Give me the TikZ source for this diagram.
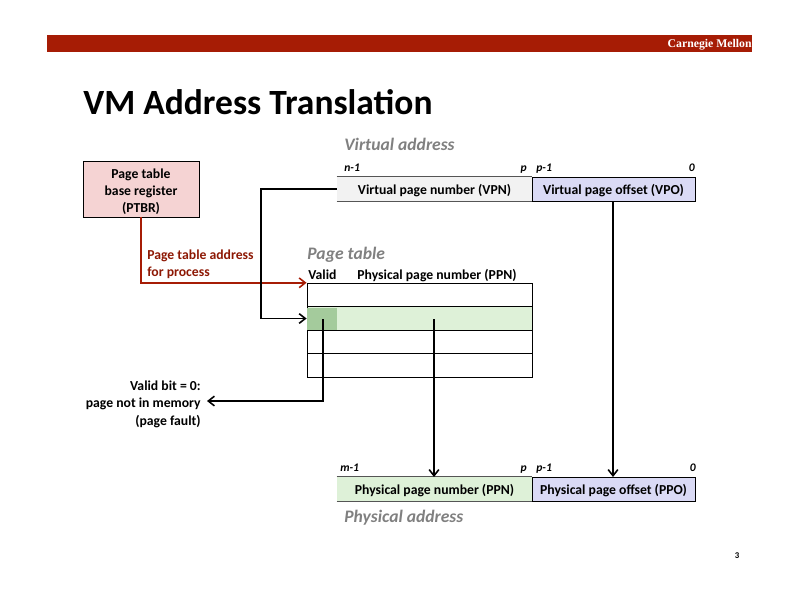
\documentclass[tikz,border=0pt]{standalone}
\usepackage{fontspec}
\usetikzlibrary{arrows.meta}
\setmainfont{Carlito}
\newfontfamily\capsfont{Liberation Serif}
\definecolor{cmured}{HTML}{A61C05}
\definecolor{ptbrpink}{HTML}{F5D3D3}
\definecolor{vpngray}{HTML}{F2F2F2}
\definecolor{offsetblue}{HTML}{DADAF5}
\definecolor{ppngreen}{HTML}{DEF1D8}
\definecolor{validgreen}{HTML}{A4CB9C}
\definecolor{addrgray}{HTML}{808080}
\definecolor{fieldline}{HTML}{555555}
\tikzset{
  bit/.style={font=\fontsize{6.6}{7}\selectfont\bfseries\itshape, inner sep=0pt},
  field/.style={font=\fontsize{7.8}{8}\selectfont\bfseries, inner sep=0pt},
  addrfield/.style={field, text height=7pt, text depth=0.2pt, minimum height=0.48cm},
  heading/.style={font=\fontsize{10}{11}\selectfont\bfseries\itshape, text=addrgray, inner sep=0pt},
  cell/.style={draw=black, line width=0.5pt, inner sep=0pt, minimum height=13.4pt},
  conn/.style={-{Straight Barb[length=3.5pt,width=5.5pt]}, line width=0.9pt},
}
\begin{document}
\begin{tikzpicture}[x=0.02cm, y=-0.02cm]
    \useasboundingbox (0,0) rectangle (800,600);

    \node[fill=cmured, minimum width=14.1cm, minimum height=0.34cm, inner sep=0pt] (bar) at (399.5,43.5) {};
    \node[font=\capsfont\fontsize{6.7}{7}\selectfont\bfseries, text=white, inner sep=0pt, anchor=east] (school) at (752,45) {Carnegie Mellon};
    \node[font=\fontsize{20.2}{21}\selectfont\bfseries, inner sep=0pt, anchor=west] (title) at (83,102) {VM Address Translation};

    % page table base register
    \node[draw=black, fill=ptbrpink, line width=0.5pt, minimum width=2.32cm, minimum height=1.12cm, inner sep=0pt, align=center, font=\fontsize{7.8}{9.8}\selectfont\bfseries] (ptbr) at (141,189) {\rule{0pt}{8.5pt}Page table\\base register\\(PTBR)};
    \node[font=\fontsize{7.8}{9.6}\selectfont\bfseries, text=cmured!85!black, inner sep=0pt, align=left, anchor=west] (ptaddr) at (147,264) {Page table address\\for process};

    % virtual address
    \node[heading, anchor=west] (vatitle) at (344,144) {Virtual address};
    \node[bit, anchor=base west] (vhigh) at (344,171) {n-1};
    \node[bit, anchor=base east] (vp) at (527,171) {p};
    \node[bit, anchor=base west] (vpm) at (536,171) {p-1};
    \node[bit, anchor=base east] (vzero) at (695,171) {0};
    \node[addrfield, fill=vpngray, minimum width=3.9cm] (vpn) at (434.5,189) {Virtual page number (VPN)};
    \node[addrfield, draw=black, line width=0.5pt, fill=offsetblue, minimum width=3.26cm] (vpo) at (613.5,189) {Virtual page offset (VPO)};
    \draw[fieldline, line width=0.9pt] (vpn.north west) -- (vpn.north east);
    \draw[fieldline, line width=0.9pt] (vpn.south west) -- (vpn.south east);

    % page table
    \node[heading, anchor=west] (pttitle) at (307,255) {Page table};
    \node[field, anchor=base west] (validhd) at (308,279) {Valid};
    \node[field, anchor=base west] (ppnhd) at (357,279) {Physical page number (PPN)};
    \node[cell, minimum width=4.5cm] (rowa) at (419.5,295) {};
    \node[cell, fill=ppngreen, minimum width=4.5cm] (rowb) at (419.5,318.5) {};
    \node[cell, minimum width=4.5cm] (rowc) at (419.5,342) {};
    \node[cell, minimum width=4.5cm] (rowd) at (419.5,365.5) {};
    \node[fill=validgreen, inner sep=0pt, minimum width=0.6cm, minimum height=0.44cm] (valid) at (322,318.5) {};

    % physical address
    \node[bit, anchor=base west] (phigh) at (340,471) {m-1};
    \node[bit, anchor=base east] (pp) at (527,471) {p};
    \node[bit, anchor=base west] (ppm) at (536,471) {p-1};
    \node[bit, anchor=base east] (pzero) at (696,471) {0};
    \node[addrfield, fill=ppngreen, minimum width=3.9cm] (ppn) at (434.5,489) {Physical page number (PPN)};
    \node[addrfield, draw=black, line width=0.5pt, fill=offsetblue, minimum width=3.26cm] (ppo) at (613.5,489) {Physical page offset (PPO)};
    \draw[fieldline, line width=0.9pt] (ppn.north west) -- (ppn.north east);
    \draw[fieldline, line width=0.9pt] (ppn.south west) -- (ppn.south east);
    \node[heading, anchor=west] (patitle) at (344,518) {Physical address};

    \node[font=\fontsize{7.8}{10}\selectfont\bfseries, inner sep=0pt, align=right, anchor=east] (fault) at (201,404) {Valid bit = 0:\\page not in memory\\(page fault)};
    \node[font=\fontsize{5}{6}\selectfont\bfseries, inner sep=0pt] (pagenum) at (737,556) {3};

    \coordinate (ppnstart) at (434,319);
    \coordinate (validstart) at (323,319);
    \coordinate (vpostart) at (613,201);
    \coordinate (ppnend) at (434,477);
    \coordinate (ppoend) at (613,477);
    \coordinate (faultend) at (207,401);

    \draw[conn, cmured] (ptbr.south) |- (rowa.north west);
    \draw[conn] (vpn.west) -- (261,189) |- (rowb.west);
    \draw[conn] (validstart) |- (faultend);
    \draw[conn] (ppnstart) -- (ppnend);
    \draw[conn] (vpostart) -- (ppoend);
\end{tikzpicture}
\end{document}
